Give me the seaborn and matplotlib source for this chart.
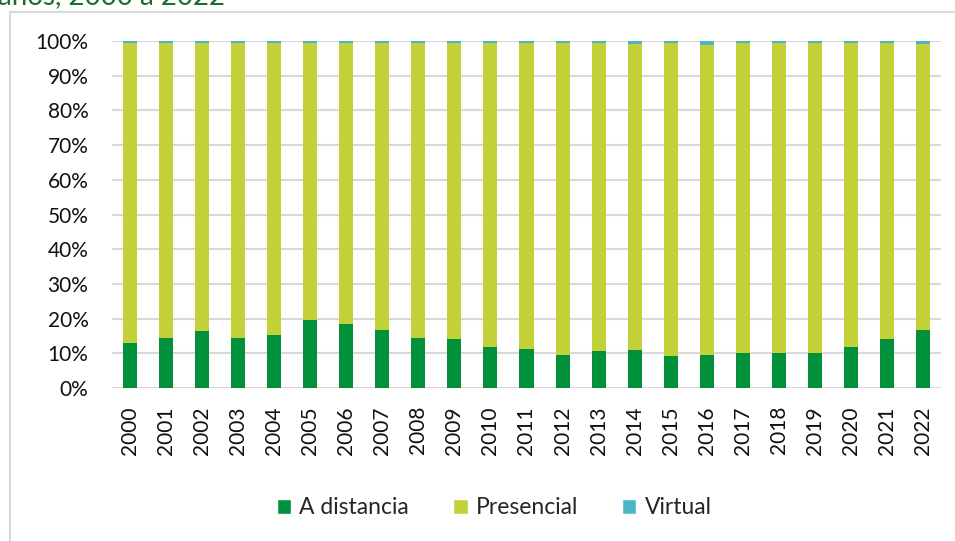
import matplotlib
matplotlib.use("Agg")
import matplotlib.pyplot as plt
import numpy as np
import pandas as pd
import seaborn as sns
from matplotlib.patches import Patch, Rectangle
from matplotlib.ticker import PercentFormatter

# Datos (porcentaje por modalidad)
years = [str(y) for y in range(2000, 2023)]
a_distancia = [13.0, 14.5, 16.4, 14.5, 15.4, 19.6, 18.4, 16.7, 14.5, 14.1, 11.8, 11.3,
               9.5, 10.7, 11.0, 9.2, 9.4, 10.0, 10.0, 10.1, 11.9, 14.2, 16.8]
presencial = [86.6, 85.1, 83.2, 85.1, 84.2, 80.0, 81.2, 82.9, 85.1, 85.5, 87.8, 88.3,
              90.1, 88.9, 88.2, 90.3, 89.6, 89.5, 89.5, 89.3, 87.5, 85.2, 82.3]
virtual = [0.4, 0.4, 0.4, 0.4, 0.4, 0.4, 0.4, 0.4, 0.4, 0.4, 0.4, 0.4,
           0.4, 0.4, 0.8, 0.5, 1.0, 0.5, 0.5, 0.6, 0.6, 0.6, 0.9]

labels = ["A distancia", "Presencial", "Virtual"]
colors = ["#00913a", "#c2d137", "#4bb5c6"]

sns.set_style("white")
plt.rcParams["font.family"] = ["Lato", "DejaVu Sans"]

df = pd.DataFrame({"year": years, "A distancia": a_distancia,
                   "Presencial": presencial, "Virtual": virtual})
# acumulados para apilar (se dibuja de arriba hacia abajo)
cum = df[labels].cumsum(axis=1) / 100

fig = plt.figure(figsize=(9.55, 5.41), dpi=100)
ax = fig.add_axes([0.1173, 0.2828, 0.868, 0.6412])

for lab, col in zip(labels[::-1], colors[::-1]):
    sns.barplot(x=df["year"], y=cum[lab], color=col, width=0.39,
                linewidth=0, saturation=1, ax=ax, clip_on=False)

ax.set_ylim(0, 1)
ax.set_xlim(-0.5, 22.5)
ax.yaxis.set_major_locator(plt.MultipleLocator(0.1))
ax.yaxis.set_major_formatter(PercentFormatter(1.0, decimals=0))
ax.grid(axis="y", color="#d9d9d9", lw=1.5)
ax.set_axisbelow(True)
sns.despine(ax=ax, left=True, bottom=True)
ax.tick_params(axis="both", length=0, labelsize=15, colors="#111111")
ax.tick_params(axis="y", pad=17)
ax.tick_params(axis="x", pad=13)
plt.setp(ax.get_xticklabels(), rotation=90)
ax.set_xlabel("")
ax.set_ylabel("")

# titulo recortado en la parte superior
fig.text(-0.002, 1 - 4 / 541, "años, 2000 a 2022", color="#1e6b30", fontsize=20,
         va="baseline", ha="left")

# marco gris del grafico
fig.patches.append(Rectangle((10 / 955, -0.1), 1.2, 1.1 - 12 / 541,
                             transform=fig.transFigure, fill=False,
                             edgecolor="#d9d9d9", lw=1.5))

handles = [Patch(facecolor=c, label=l) for l, c in zip(labels, colors)]
fig.legend(handles=handles, loc="center", bbox_to_anchor=(494 / 955, 1 - 508 / 541),
           ncol=3, frameon=False, fontsize=16.5, handlelength=0.65, handleheight=0.65,
           handletextpad=0.35, columnspacing=1.9)

fig.savefig("out.png", dpi=100)
